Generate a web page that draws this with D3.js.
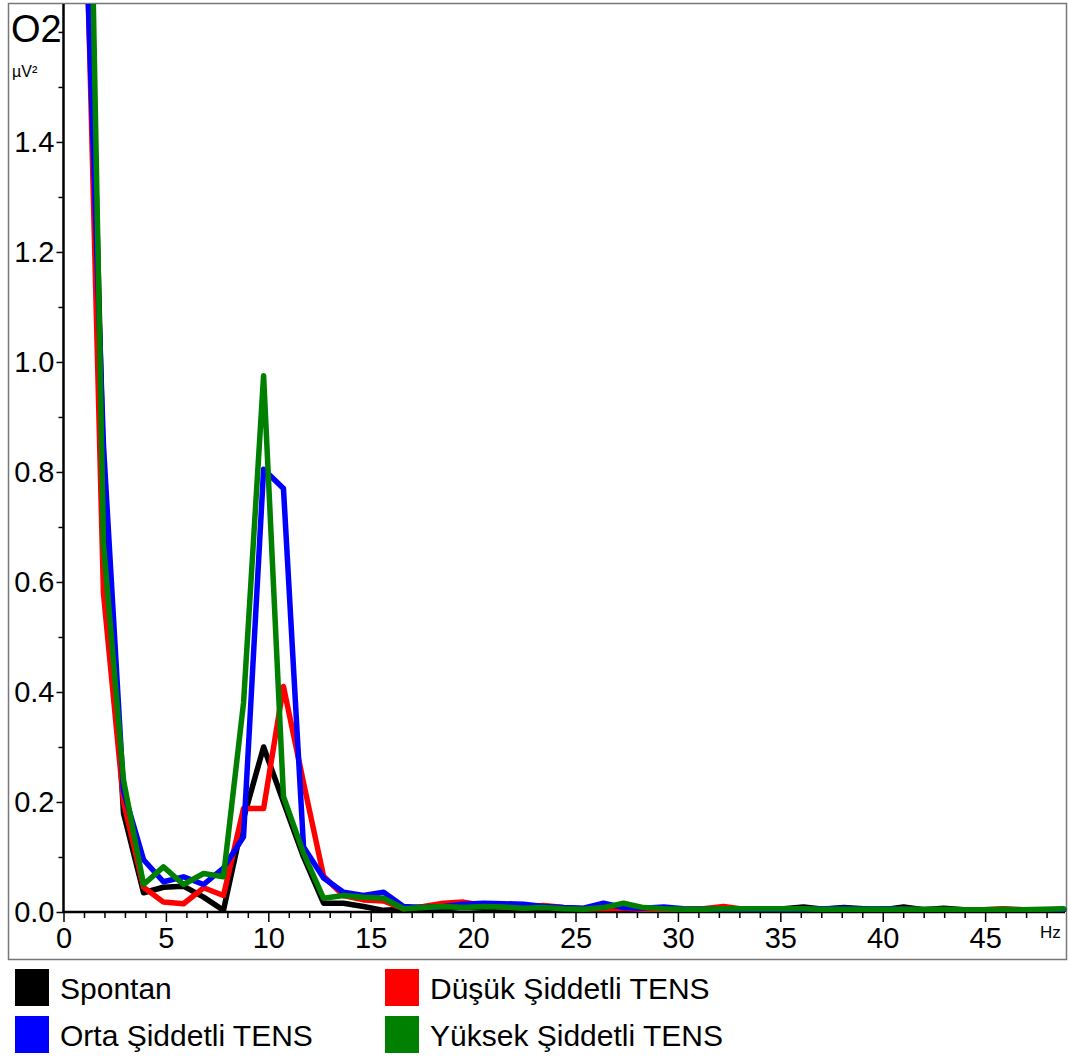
<!DOCTYPE html>
<html>
<head>
<meta charset="utf-8">
<script src="https://cdn.jsdelivr.net/npm/d3@7"></script>
<style>
  html, body { margin: 0; padding: 0; background: #fff; }
  svg { display: block; font-family: "Liberation Sans", Arial, sans-serif; }
</style>
</head>
<body>
<svg id="chart" width="1070" height="1059"></svg>
<script>
// Frequencies (Hz)
const freqs = [0.98, 1.95, 2.93, 3.91, 4.88, 5.86, 6.84, 7.81, 8.79, 9.77,
  10.74, 11.72, 12.70, 13.67, 14.65, 15.63, 16.60, 17.58, 18.55, 19.53,
  20.51, 21.48, 22.46, 23.44, 24.41, 25.39, 26.37, 27.34, 28.32, 29.30,
  30.27, 31.25, 32.23, 33.20, 34.18, 35.16, 36.13, 37.11, 38.09, 39.06,
  40.04, 41.02, 41.99, 42.97, 43.95, 44.92, 45.90, 46.88, 47.85, 48.83];

const spontan = [2.2, 0.80, 0.18, 0.035, 0.045, 0.047, 0.027, 0.003, 0.17, 0.30,
  0.20, 0.10, 0.016, 0.016, 0.010, 0.003, 0.005, 0.004, 0.006, 0.008,
  0.007, 0.006, 0.005, 0.006, 0.007, 0.005, 0.004, 0.006, 0.005, 0.004,
  0.004, 0.005, 0.004, 0.004, 0.005, 0.006, 0.009, 0.005, 0.008, 0.006,
  0.004, 0.009, 0.004, 0.007, 0.004, 0.003, 0.003, 0.004, 0.003, 0.005];

const dusuk = [2.0, 0.58, 0.20, 0.045, 0.018, 0.015, 0.044, 0.030, 0.188, 0.188,
  0.41, 0.235, 0.065, 0.030, 0.022, 0.020, 0.006, 0.010, 0.016, 0.018,
  0.012, 0.009, 0.008, 0.012, 0.008, 0.006, 0.006, 0.007, 0.005, 0.005,
  0.004, 0.006, 0.010, 0.005, 0.004, 0.004, 0.005, 0.004, 0.004, 0.004,
  0.003, 0.005, 0.004, 0.003, 0.003, 0.004, 0.006, 0.004, 0.003, 0.004];

const orta = [1.9, 0.85, 0.22, 0.095, 0.055, 0.064, 0.050, 0.080, 0.137, 0.805,
  0.77, 0.118, 0.062, 0.036, 0.030, 0.036, 0.010, 0.008, 0.010, 0.014,
  0.016, 0.015, 0.014, 0.010, 0.008, 0.007, 0.016, 0.008, 0.007, 0.009,
  0.006, 0.005, 0.005, 0.005, 0.004, 0.005, 0.005, 0.006, 0.007, 0.005,
  0.006, 0.005, 0.004, 0.004, 0.003, 0.003, 0.004, 0.004, 0.003, 0.004];

const yuksek = [2.6, 0.67, 0.24, 0.050, 0.082, 0.050, 0.070, 0.064, 0.38, 0.975,
  0.21, 0.107, 0.025, 0.030, 0.027, 0.025, 0.006, 0.008, 0.010, 0.008,
  0.010, 0.009, 0.007, 0.008, 0.006, 0.005, 0.008, 0.016, 0.008, 0.006,
  0.005, 0.005, 0.006, 0.006, 0.006, 0.006, 0.006, 0.005, 0.005, 0.005,
  0.005, 0.005, 0.005, 0.005, 0.004, 0.004, 0.005, 0.004, 0.005, 0.006];

const seriesNames = ["Spontan", "Düşük Şiddetli TENS", "Orta Şiddetli TENS", "Yüksek Şiddetli TENS"];
const seriesColors = ["#000000", "#ff0000", "#0000ff", "#008000"];
const seriesValues = [spontan, dusuk, orta, yuksek];

const xTickValues = [0, 5, 10, 15, 20, 25, 30, 35, 40, 45];
const yTickValues = [0.0, 0.2, 0.4, 0.6, 0.8, 1.0, 1.2, 1.4];

const svg = d3.select("#chart");
const W = 1070, H = 1059;
const plot = { left: 63.5, right: 1065, top: 5, bottom: 912 };

svg.append("rect").attr("width", W).attr("height", H).attr("fill", "#fff");

// outer frame
svg.append("rect")
  .attr("x", 8.5).attr("y", 3.5).attr("width", 1058).attr("height", 956)
  .attr("fill", "none").attr("stroke", "#777").attr("stroke-width", 1.5);

const x = d3.scaleLinear().domain([0, 48.9]).range([plot.left, plot.right]);
const y = d3.scaleLinear().domain([0, 1.649]).range([plot.bottom, plot.top]);

// minor ticks
const xMinor = d3.range(1, 49).filter(v => v % 5 !== 0);
svg.append("g").attr("transform", `translate(0,${plot.bottom})`)
  .call(d3.axisBottom(x).tickValues(xMinor).tickSize(6).tickFormat(""))
  .call(g => g.select(".domain").remove())
  .call(g => g.selectAll("line").attr("stroke", "#000").attr("stroke-width", 1.5));

const yMinor = [0.1, 0.3, 0.5, 0.7, 0.9, 1.1, 1.3, 1.5, 1.6];
svg.append("g").attr("transform", `translate(${plot.left},0)`)
  .call(d3.axisLeft(y).tickValues(yMinor).tickSize(5).tickFormat(""))
  .call(g => g.select(".domain").remove())
  .call(g => g.selectAll("line").attr("stroke", "#000").attr("stroke-width", 1.5));

// major x axis
const gx = svg.append("g").attr("transform", `translate(0,${plot.bottom})`)
  .call(d3.axisBottom(x).tickValues(xTickValues).tickSize(10).tickPadding(5).tickFormat(d3.format("d")));
gx.select(".domain").remove();
gx.selectAll("line").attr("stroke", "#000").attr("stroke-width", 1.5);
gx.selectAll("text").attr("font-size", 29).attr("fill", "#000")
  .attr("font-family", "'Liberation Sans', Arial, sans-serif");

// major y axis
const gy = svg.append("g").attr("transform", `translate(${plot.left},0)`)
  .call(d3.axisLeft(y).tickValues(yTickValues).tickSize(7).tickPadding(2).tickFormat(d3.format(".1f")));
gy.select(".domain").remove();
gy.selectAll("line").attr("stroke", "#000").attr("stroke-width", 1.5);
gy.selectAll("text").attr("font-size", 29).attr("fill", "#000")
  .attr("font-family", "'Liberation Sans', Arial, sans-serif");

// axis lines
svg.append("line").attr("x1", plot.left).attr("x2", plot.left)
  .attr("y1", plot.top - 1).attr("y2", plot.bottom + 1)
  .attr("stroke", "#000").attr("stroke-width", 2.5);
svg.append("line").attr("x1", plot.left - 1).attr("x2", plot.right)
  .attr("y1", plot.bottom).attr("y2", plot.bottom)
  .attr("stroke", "#000").attr("stroke-width", 2.5);

// titles
svg.append("text").attr("x", 11).attr("y", 42).attr("font-size", 38).attr("fill", "#000").text("O2");
svg.append("text").attr("x", 12).attr("y", 77).attr("font-size", 16).attr("fill", "#000").text("µV²");
svg.append("text").attr("x", 1040).attr("y", 938).attr("font-size", 17).attr("fill", "#000").text("Hz");

// clip
svg.append("clipPath").attr("id", "plotclip").append("rect")
  .attr("x", plot.left).attr("y", plot.top - 1)
  .attr("width", plot.right - plot.left + 2).attr("height", plot.bottom - plot.top + 1);

const line = d3.line().x((d, i) => x(freqs[i])).y(d => y(d));
const lg = svg.append("g").attr("clip-path", "url(#plotclip)");
seriesValues.forEach((vals, i) => {
  lg.append("path").datum(vals)
    .attr("d", line)
    .attr("fill", "none")
    .attr("stroke", seriesColors[i])
    .attr("stroke-width", 5.5)
    .attr("stroke-linejoin", "round")
    .attr("stroke-linecap", "round");
});

// legend
const legendPos = [[15, 969], [385, 969], [15, 1016], [385, 1016]];
seriesNames.forEach((name, i) => {
  const [lx, ly] = legendPos[i];
  svg.append("rect").attr("x", lx).attr("y", ly).attr("width", 34).attr("height", 37)
    .attr("fill", seriesColors[i]);
  svg.append("text").attr("x", lx + 45).attr("y", ly + 30)
    .attr("font-size", 30).attr("fill", "#000").text(name);
});
</script>
</body>
</html>
